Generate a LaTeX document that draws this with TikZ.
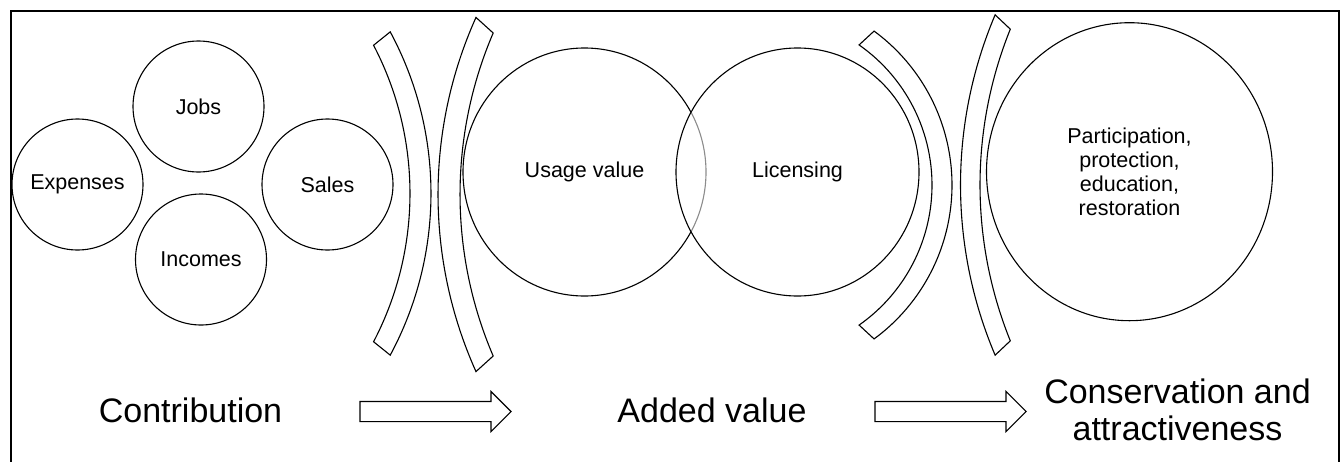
\documentclass[tikz,border=0pt]{standalone}
\usepackage{fontspec}
\setmainfont{Liberation Sans}
\usepackage{tikz}
\usetikzlibrary{positioning, shapes.geometric, shapes.arrows}

\begin{document}
\begin{tikzpicture}[
        x=1pt, y=-1pt,
        every node/.style={align=center, font=\fontsize{21.5}{24}\selectfont},
        ring/.style={circle, draw, line width=1.1pt, minimum size=131pt, inner sep=0pt},
        oval/.style={ellipse, draw, line width=1.1pt, inner sep=0pt},
        band/.style={draw, line width=1.1pt},
        stage/.style={font=\fontsize{34}{37}\selectfont},
        flow/.style={single arrow, draw, line width=1.1pt, minimum height=151pt,
            inner xsep=0pt, inner ysep=9.5pt, single arrow head extend=10pt},
      ]
      \clip (0,0) rectangle (1340,461);
      \draw[line width=2pt] (10.5,11.3) rectangle (1339,480);

      % contribution
      \node[ring] (jobs) at (198.5,106.5) {Jobs};
      \node[ring] (expenses) at (77.5,184.5) {Expenses};
      \node[ring] (sales) at (327.5,184.5) {Sales};
      \node[ring] (incomes) at (201,259.5) {Incomes};

      % added value, licensing drawn on top with a see-through fill
      \node[oval, minimum width=243pt, minimum height=248pt] (usage) at (584.5,172) {Usage value};
      \node[oval, minimum width=243pt, minimum height=248pt, fill=white, fill opacity=0.55,
        text opacity=1] (licensing) at (797.5,172) {Licensing};

      % conservation
      \node[oval, minimum width=286pt, minimum height=298pt] (participation) at (1129.5,171.7)
        {Participation,\\ protection,\\ education,\\ restoration};

      % block arcs between the groups
      \draw[band] ([shift={(90,193.5)}]-27.6:320) arc[start angle=-27.6, end angle=27.6, radius=320]
        -- ([shift={(90,193.5)}]28.3:341) arc[start angle=28.3, end angle=-28.3, radius=341] -- cycle;
      \draw[band] ([shift={(870,194.5)}]156.8:410) arc[start angle=156.8, end angle=203.2, radius=410]
        -- ([shift={(870,194.5)}]204.2:432) arc[start angle=204.2, end angle=155.8, radius=432] -- cycle;
      \draw[band] ([shift={(761,185)}]-55:171) arc[start angle=-55, end angle=55, radius=171]
        -- ([shift={(761,185)}]53.7:191) arc[start angle=53.7, end angle=-53.7, radius=191] -- cycle;
      \draw[band] ([shift={(1396,185)}]158:416) arc[start angle=158, end angle=202, radius=416]
        -- ([shift={(1396,185)}]203:435.5) arc[start angle=203, end angle=157, radius=435.5] -- cycle;

      % stages along the bottom
      \node[stage] (contribution) at (190.5,410) {Contribution};
      \node[stage] (added) at (712,410) {Added value};
      \node[stage] (conservation) at (1177.5,409.5) {Conservation and\\ attractiveness};
      \node[flow] (flowa) at (430.5,411.5) {};
      \node[flow] (flowb) at (945.5,411.5) {};
      \end{tikzpicture}
\end{document}
